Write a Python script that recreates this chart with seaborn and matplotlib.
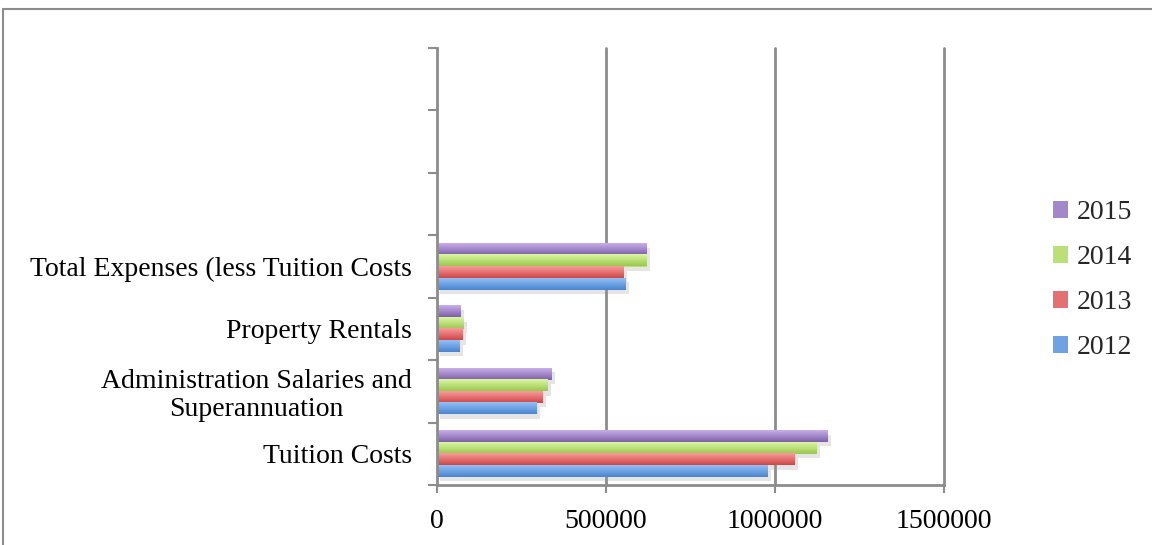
import numpy as np
import pandas as pd
import matplotlib
matplotlib.use("Agg")
import matplotlib.pyplot as plt
import matplotlib.patheffects as pe
from matplotlib.patches import Rectangle
from matplotlib.colors import to_rgb
import seaborn as sns

# ---- data ----
categories = [
    "Tuition Costs",
    "Administration Salaries and\nSuperannuation",
    "Property Rentals",
    "Total Expenses (less Tuition Costs",
]
years = ["2012", "2013", "2014", "2015"]
values_2012 = [978000, 294000, 67000, 557000]
values_2013 = [1059000, 312000, 76000, 551000]
values_2014 = [1124000, 327000, 79000, 620000]
values_2015 = [1156000, 338000, 69000, 620000]
x_ticks = [0, 500000, 1000000, 1500000]

# light (top) / dark (bottom) shade for each series
light = {"2012": "#92c0f8", "2013": "#f99c9c", "2014": "#dbf8a2", "2015": "#c8b0ea"}
dark = {"2012": "#4a84cf", "2013": "#cf4646", "2014": "#9bc74e", "2015": "#7e5fa8"}
mid = {y: tuple((np.array(to_rgb(light[y])) + np.array(to_rgb(dark[y]))) / 2) for y in years}

series = {"2012": values_2012, "2013": values_2013, "2014": values_2014, "2015": values_2015}
rows = []
for yr, vals in series.items():
    for cat, v in zip(categories, vals):
        rows.append({"category": cat, "year": yr, "value": v})
df = pd.DataFrame(rows)

# three unused slots sit above the real categories
order = [" ", "  ", "   "] + categories[::-1]
hue_order = years[::-1]

sns.set_theme(style="white")
plt.rcParams["font.family"] = ["Liberation Serif", "DejaVu Serif"]
FS = 20

fig = plt.figure(figsize=(11.52, 5.45), dpi=100)
ax = fig.add_axes([437 / 1152, 1 - 485 / 545, (944 - 437) / 1152, (485 - 48) / 545])

sns.barplot(
    data=df, y="category", x="value", hue="year", order=order,
    hue_order=hue_order, palette=mid, orient="h", width=0.74,
    ax=ax, legend=False, saturation=1, edgecolor="none", linewidth=0,
)

gray = "#8c8c8c"


def gradient(c_top, c_bot, n=64):
    t = np.linspace(0, 1, n)[:, None]
    return (np.array(to_rgb(c_top)) * (1 - t) + np.array(to_rgb(c_bot)) * t)[:, None, :]


# gradient fill + soft drop shadow on every bar
bars = [p for p in ax.patches if isinstance(p, Rectangle) and p.get_width() > 0]
for p in bars:
    fc = p.get_facecolor()[:3]
    yr = min(years, key=lambda k: np.sum((np.array(mid[k]) - np.array(fc)) ** 2))
    x0, y0, w, h = p.get_x(), p.get_y(), p.get_width(), p.get_height()
    p.set_path_effects([pe.SimplePatchShadow(offset=(2.5, -3), shadow_rgbFace="#9a9a9a", alpha=0.25),
                        pe.Normal()])
    p.set_zorder(2)
    ax.imshow(gradient(light[yr], dark[yr]), extent=(x0, x0 + w, y0 + h, y0), origin="upper",
              aspect="auto", zorder=3, interpolation="bilinear")

ax.set_xlim(0, 1500000)
ax.set_ylim(len(order) - 0.5, -0.5)

# vertical grid
for xv in x_ticks[1:]:
    ax.axvline(xv, color=gray, lw=2, zorder=1, clip_on=False)

# ticks: y marks at slot boundaries, labels at slot centres
ax.set_yticks(np.arange(-0.5, len(order), 1.0))
ax.set_yticklabels([])
ax.set_yticks(np.arange(len(order)), minor=True)
ax.set_yticklabels(order, minor=True, fontsize=FS, color="black")
ax.tick_params(axis="y", which="major", length=6.5, width=1.5, color=gray, direction="out", left=True)
ax.tick_params(axis="y", which="minor", length=0, pad=18)
for lab in ax.get_yticklabels(minor=True):
    lab.set_horizontalalignment("right")
    lab.set_multialignment("center")
    lab.set_linespacing(1.15)

ax.set_xticks(x_ticks)
ax.set_xticklabels([str(v) for v in x_ticks], fontsize=FS, color="black")
ax.tick_params(axis="x", length=6, width=1.5, color=gray, direction="out", bottom=True, pad=11)

ax.set_xlabel("")
ax.set_ylabel("")
for s in ["top", "right"]:
    ax.spines[s].set_visible(False)
for s in ["left", "bottom"]:
    ax.spines[s].set_color(gray)
    ax.spines[s].set_linewidth(2)
    ax.spines[s].set_zorder(4)

# legend
handles = [Rectangle((0, 0), 1, 1, facecolor=mid[y], edgecolor="none") for y in hue_order]
fig.legend(handles, hue_order, loc="center left", bbox_to_anchor=(1053 / 1152, 1 - 280 / 545),
           frameon=False, fontsize=FS, handlelength=0.55, handleheight=0.55,
           handletextpad=0.3, labelspacing=0.72, borderpad=0, borderaxespad=0)

# outer chart frame
fig.add_artist(Rectangle((3 / 1152, -0.2), 1.2, 1 - 9 / 545 + 0.2, transform=fig.transFigure,
                         fill=False, edgecolor=gray, lw=1.5))

fig.savefig("out.png", dpi=100)
